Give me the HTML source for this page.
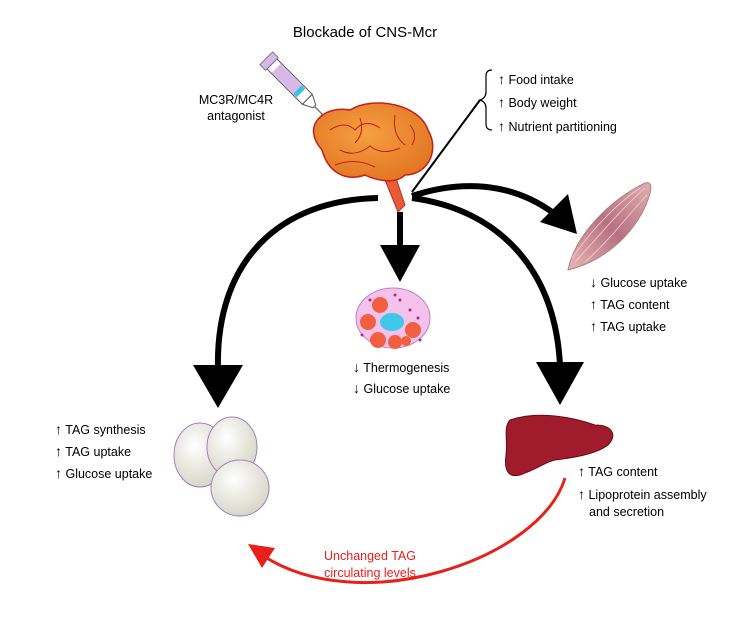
<!DOCTYPE html>
<html><head><style>
body{margin:0;background:#fff;}
svg{display:block;font-family:"Liberation Sans",sans-serif;}
.a{font-weight:bold;font-size:14px;}
</style></head><body>
<svg width="745" height="641" viewBox="0 0 745 641">
<defs>
<radialGradient id="ad" cx="40%" cy="35%" r="70%"><stop offset="0" stop-color="#fff"/><stop offset="1" stop-color="#d4d4c4"/></radialGradient>
<radialGradient id="br" cx="45%" cy="40%" r="70%"><stop offset="0" stop-color="#f5a040"/><stop offset="1" stop-color="#e07020"/></radialGradient>
<linearGradient id="mu" x1="0" y1="1" x2="1" y2="0"><stop offset="0" stop-color="#e8b8b8"/><stop offset="0.5" stop-color="#b87080"/><stop offset="1" stop-color="#e0b0b0"/></linearGradient>
</defs>
<text x="365" y="37" font-size="15" text-anchor="middle">Blockade of CNS-Mcr</text>
<!-- syringe -->
<g transform="translate(296,88) rotate(45)">
<rect x="-34" y="-7" width="50" height="14" fill="#fff" stroke="#555"/>
<rect x="-28" y="-6" width="30" height="12" fill="#d9b8e8"/>
<rect x="2" y="-6" width="5" height="12" fill="#3cc0e0"/>
<rect x="-42" y="-9" width="8" height="18" fill="#d9b8e8" stroke="#777"/>
<polygon points="16,-7 26,-2 26,2 16,7" fill="#fff" stroke="#555"/>
<line x1="26" y1="0" x2="60" y2="0" stroke="#777" stroke-width="1.5"/>
</g>
<text x="236" y="104" font-size="12.5" text-anchor="middle">MC3R/MC4R</text>
<text x="236" y="120" font-size="12.5" text-anchor="middle">antagonist</text>
<!-- brain -->
<path d="M395,175 L405,205 L398,212 L385,180 Z" fill="#e85a38" stroke="#c03020"/>
<path d="M322,150 C300,125 325,105 350,110 C375,95 420,105 428,130 C440,150 428,175 405,175 C395,185 375,180 365,175 C345,182 328,172 322,150 Z" fill="url(#br)" stroke="#c02020" stroke-width="1.5"/>
<path d="M330,130 q15,-10 25,0 q10,-12 25,-2 M340,150 q15,8 30,-4 q12,10 30,2 M360,118 q5,15 -5,25 M395,115 q-3,20 10,30 M335,165 q20,-8 40,2 M410,125 q8,10 2,20" fill="none" stroke="#c02020" stroke-width="1"/>
<!-- bracket and list -->
<path d="M492,70 q-6,0 -6,6 v16 q0,6 -6,8 q6,2 6,8 v16 q0,6 6,6" fill="none" stroke="#000" stroke-width="1.2"/>
<line x1="480" y1="100" x2="412" y2="192" stroke="#000" stroke-width="2"/>
<g font-size="12.5">
<text x="498" y="84"><tspan class="a">↑</tspan> Food intake</text>
<text x="498" y="107"><tspan class="a">↑</tspan> Body weight</text>
<text x="498" y="131"><tspan class="a">↑</tspan> Nutrient partitioning</text>
</g>
<!-- arrows -->
<g fill="none" stroke="#000" stroke-width="6">
<path d="M378,198 C280,200 215,260 218,370"/>
<line x1="400" y1="212" x2="400" y2="250"/>
<path d="M412,198 C500,210 555,270 560,365"/>
<path d="M412,196 C460,180 510,182 552,212"/>
</g>
<g fill="#000">
<polygon points="193,365 243,365 218,408"/>
<polygon points="380,245 420,245 400,282"/>
<polygon points="536,362 584,362 560,405"/>
<polygon points="540,222 568,194 577,234"/>
</g>
<!-- cell -->
<ellipse cx="393" cy="318" rx="37" ry="30" fill="#f4c0ec" stroke="#c080c0"/>
<circle cx="380" cy="305" r="8" fill="#f06040"/><circle cx="368" cy="322" r="8" fill="#f06040"/>
<circle cx="378" cy="340" r="8" fill="#f06040"/><circle cx="395" cy="342" r="7" fill="#f06040"/>
<circle cx="413" cy="330" r="8" fill="#f06040"/><circle cx="406" cy="341" r="5" fill="#f06040"/>
<ellipse cx="392" cy="322" rx="12" ry="9" fill="#40c8e8"/>
<g fill="#a03090"><circle cx="370" cy="300" r="1.5"/><circle cx="400" cy="300" r="1.5"/><circle cx="410" cy="310" r="1.5"/><circle cx="418" cy="318" r="1.5"/><circle cx="362" cy="335" r="1.5"/><circle cx="395" cy="295" r="1.5"/><circle cx="420" cy="340" r="1.5"/></g>
<g font-size="12.5"><text x="353" y="372"><tspan class="a">↓</tspan> Thermogenesis</text><text x="353" y="393"><tspan class="a">↓</tspan> Glucose uptake</text></g>
<!-- adipocytes -->
<g stroke="#a080c0" fill="url(#ad)">
<ellipse cx="200" cy="455" rx="26" ry="32"/>
<ellipse cx="232" cy="447" rx="25" ry="30"/>
<ellipse cx="240" cy="488" rx="29" ry="28"/>
</g>
<g font-size="12.5"><text x="55" y="434"><tspan class="a">↑</tspan> TAG synthesis</text><text x="55" y="456"><tspan class="a">↑</tspan> TAG uptake</text><text x="55" y="478"><tspan class="a">↑</tspan> Glucose uptake</text></g>
<!-- muscle -->
<path d="M568,270 C575,235 610,200 645,183 C655,180 650,195 646,205 C630,240 600,262 568,270 Z" fill="url(#mu)" stroke="#b08080"/>
<path d="M575,262 C600,235 620,210 645,188 M585,262 C610,240 628,215 647,195 M572,258 C592,230 615,205 640,188" fill="none" stroke="#f0d0d0" stroke-width="0.8"/>
<g font-size="12.5"><text x="590" y="287"><tspan class="a">↓</tspan> Glucose uptake</text><text x="590" y="309"><tspan class="a">↑</tspan> TAG content</text><text x="590" y="331"><tspan class="a">↑</tspan> TAG uptake</text></g>
<!-- liver -->
<path d="M510,420 C540,410 575,418 595,425 C612,425 618,435 608,445 C595,455 570,458 555,460 C545,462 540,468 520,475 C508,478 504,470 506,455 C508,440 503,428 510,420 Z" fill="#a01c2c" stroke="#6a0a14"/>
<g font-size="12.5"><text x="578" y="476"><tspan class="a">↑</tspan> TAG content</text><text x="578" y="499"><tspan class="a">↑</tspan> Lipoprotein assembly</text><text x="589" y="516">and secretion</text></g>
<!-- red arc -->
<path d="M565,478 C540,560 360,620 262,555" fill="none" stroke="#e8201a" stroke-width="3"/>
<polygon points="248,544 275,548 262,568" fill="#e8201a"/>
<g font-size="12.5" fill="#e8201a" text-anchor="middle"><text x="370" y="560">Unchanged TAG</text><text x="370" y="577">circulating levels</text></g>
</svg>
</body></html>
